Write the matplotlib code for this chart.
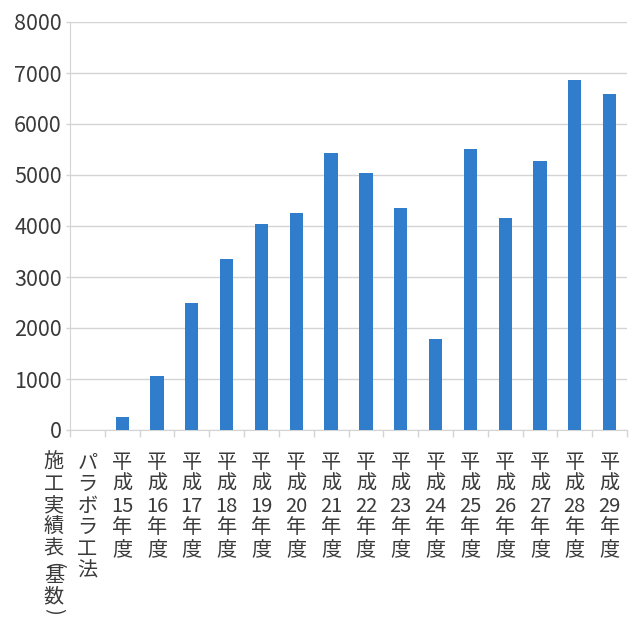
import matplotlib
matplotlib.use("Agg")
from matplotlib import pyplot as plt
from matplotlib import transforms
import numpy as np

plt.rcParams['font.family'] = ['Noto Sans CJK JP', 'DejaVu Sans']

# data
method_label = "パラボラ工法"
table_label = "施工実績表(基数)"
years = [15, 16, 17, 18, 19, 20, 21, 22, 23, 24, 25, 26, 27, 28, 29]
counts = [250, 1065, 2490, 3360, 4030, 4250, 5440, 5030, 4350, 1780, 5510, 4160, 5280, 6860, 6580]
yticks = [0, 1000, 2000, 3000, 4000, 5000, 6000, 7000, 8000]

bar_color = "#2f7dcb"
text_color = "#3a3a3a"
grid_color = "#d4d4d4"

def vertical(s):
    return "\n".join(s)

labels = [vertical(method_label)] + ["平\n成\n%d\n年\n度" % y for y in years]

fig = plt.figure(figsize=(6.39, 6.21), dpi=100)
ax = fig.add_axes([70 / 639, 1 - 430 / 621, 557 / 639, 408 / 621])

pos = np.arange(1, len(years) + 1)
ax.bar(pos, counts, width=0.38, color=bar_color, zorder=3)

ax.set_xlim(-0.5, len(years) + 0.5)
ax.set_ylim(0, 8000)
ax.set_yticks(yticks)
ax.yaxis.grid(True, color=grid_color, linewidth=1.0, zorder=0)

ax.set_xticks(np.arange(len(labels)))
ax.set_xticklabels(labels, linespacing=1.04)
ax.set_xticks(np.arange(len(labels) + 1) - 0.5, minor=True)
ax.tick_params(axis='x', which='major', length=0, pad=16, labelsize=14.5, colors=text_color)
ax.tick_params(axis='x', which='minor', length=5, width=1, color=grid_color)
ax.tick_params(axis='y', length=3, width=1, color=grid_color, pad=3, labelsize=15.5, labelcolor=text_color)

for side in ['top', 'right']:
    ax.spines[side].set_visible(False)
ax.spines['left'].set_color(grid_color)
ax.spines['bottom'].set_color(grid_color)

# second column of the left label, written top to bottom outside the axes;
# brackets are turned on their side and take about half a line
steps = [0, 1, 2, 3, 4, 4.75, 5.3, 6.2, 6.9]
for ch, k in zip(table_label, steps):
    trans = transforms.offset_copy(ax.transAxes, fig=fig, x=0, y=-(32.5 + k * 21.6) * 0.72, units='points')
    rot = -90 if ch in "()" else 0
    ax.text(-0.029, 0, ch, transform=trans, ha='center', va='center', rotation=rot,
            fontsize=14.5, color=text_color)

fig.savefig("out.png", dpi=100)
